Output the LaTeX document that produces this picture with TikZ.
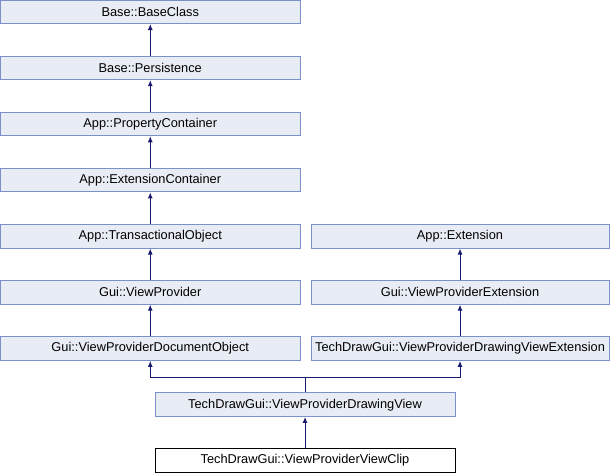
\documentclass[tikz,border=0pt]{standalone}
\usepackage{fontspec}
\setmainfont{Liberation Sans}
\usetikzlibrary{arrows.meta}
\definecolor{boxfill}{HTML}{E8ECF4}
\definecolor{boxline}{HTML}{7A92C9}
\definecolor{edgeblue}{HTML}{191970}
\begin{document}
\begin{tikzpicture}[x=1pt,y=-1pt,
  cls/.style={draw=boxline,fill=boxfill,line width=1pt,minimum width=#1,minimum height=23.5pt,
    inner sep=0pt,font=\fontsize{12.8}{14}\selectfont,text=black},
  cls/.default=299.5pt,
  leaf/.style={draw=black,fill=white,line width=1pt,minimum width=300pt,minimum height=23.5pt,
    inner sep=0pt,font=\fontsize{12.8}{14}\selectfont,text=black},
  inh/.style={draw=edgeblue,line width=1pt,-{Latex[length=6pt,width=5pt]}}]
\useasboundingbox (0,0) rectangle (612,472);
% left column
\node[cls] (bc) at (150.25,11.75) {Base::BaseClass};
\node[cls] (pe) at (150.25,67.9) {Base::Persistence};
\node[cls] (pc) at (150.25,124.0) {App::PropertyContainer};
\node[cls] (ec) at (150.25,180.2) {App::ExtensionContainer};
\node[cls] (to) at (150.25,236.3) {App::TransactionalObject};
\node[cls] (vp) at (150.25,292.4) {Gui::ViewProvider};
\node[cls] (vd) at (150.25,348.6) {Gui::ViewProviderDocumentObject};
% right column
\node[cls=298pt] (ex) at (460,236.3) {App::Extension};
\node[cls=298pt] (ve) at (460,292.4) {Gui::ViewProviderExtension};
\node[cls=298pt] (dx) at (460,348.6) {TechDrawGui::ViewProviderDrawingViewExtension};
% bottom
\node[cls=300pt] (dv) at (305,404.7) {TechDrawGui::ViewProviderDrawingView};
\node[leaf] (vc) at (305,460.5) {TechDrawGui::ViewProviderViewClip};
% inheritance arrows
\draw[inh] (pe) -- (bc);
\draw[inh] (pc) -- (pe);
\draw[inh] (ec) -- (pc);
\draw[inh] (to) -- (ec);
\draw[inh] (vp) -- (to);
\draw[inh] (vd) -- (vp);
\draw[inh] (ve) -- (ex);
\draw[inh] (dx) -- (ve);
\draw[inh] (vc) -- (dv);
\coordinate (j) at (305,377);
\draw[inh] (dv.north) -- (j) -| (vd.south);
\draw[inh] (j) -| (dx.south);
\end{tikzpicture}
\end{document}
